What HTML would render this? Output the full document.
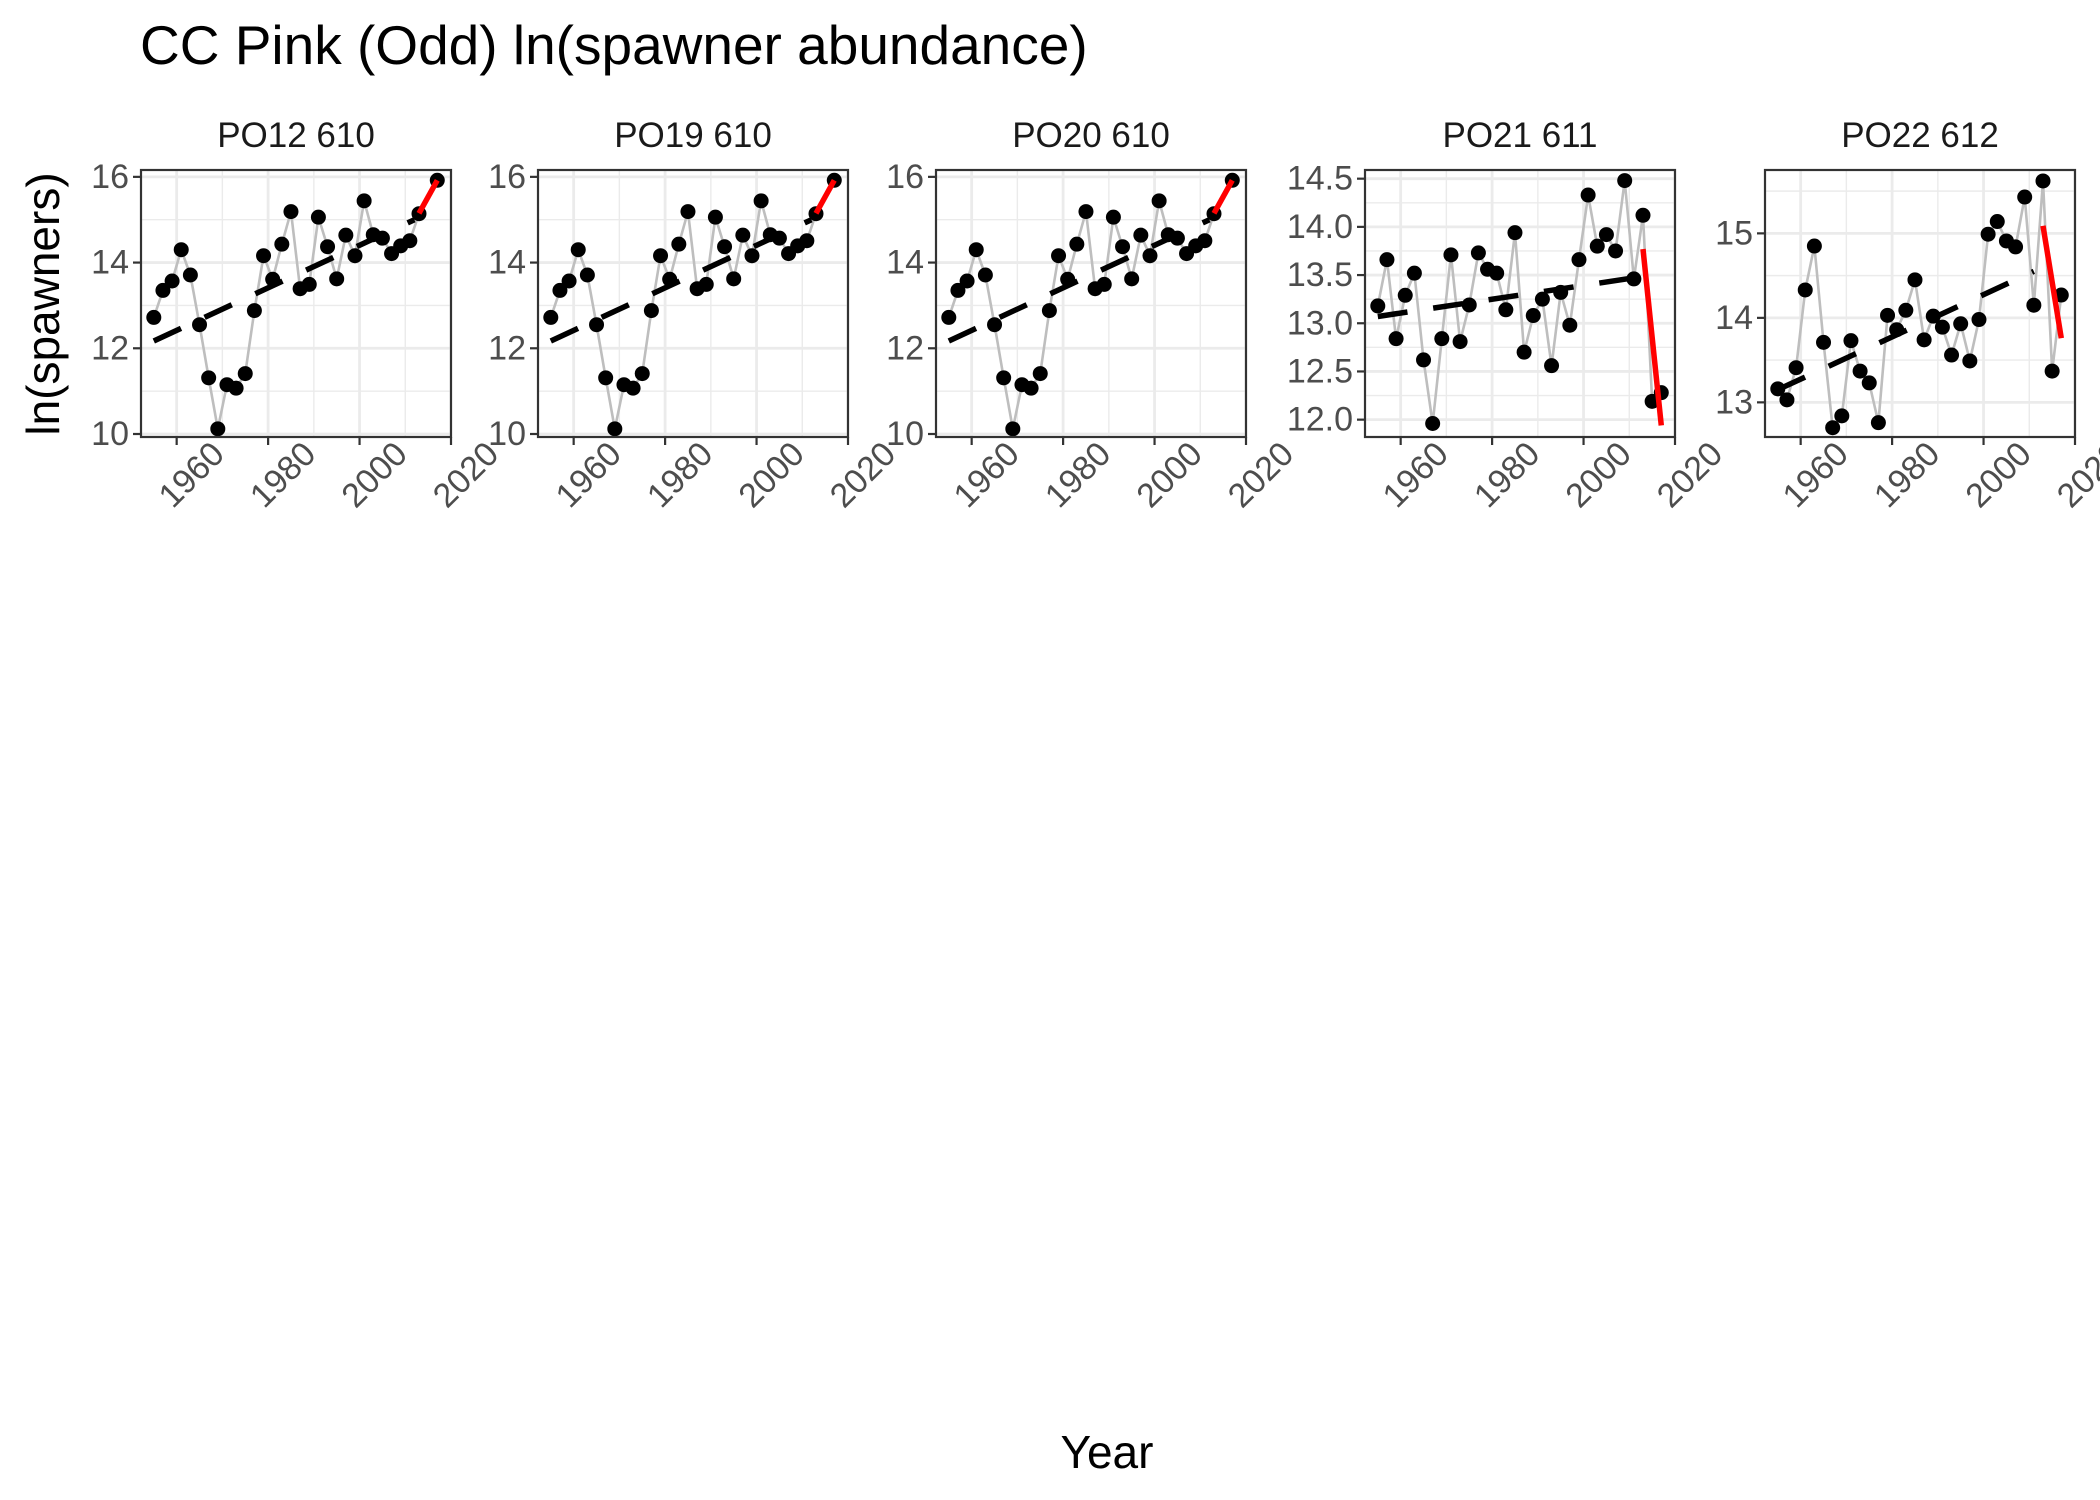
<!DOCTYPE html>
<html><head><meta charset="utf-8"><style>
html,body{margin:0;padding:0;background:#fff;}
svg{display:block;font-family:"Liberation Sans",Arial,sans-serif;}
</style></head><body>
<svg id="chart" width="2100" height="1500" viewBox="0 0 2100 1500">
<text x="140" y="64" font-size="55" fill="#000">CC Pink (Odd) ln(spawner abundance)</text>
<text x="43" y="304" font-size="46" fill="#000" text-anchor="middle" dominant-baseline="central" transform="rotate(-90 43 304)">ln(spawners)</text>
<text x="1107" y="1468" font-size="46" fill="#000" text-anchor="middle">Year</text>
</svg>
<script>
const panelNames = ["PO12 610","PO19 610","PO20 610","PO21 611","PO22 612"];
const yearsA = [1955,1957,1959,1961,1963,1965,1967,1969,1971,1973,1975,1977,1979,1981,1983,1985,1987,1989,1991,1993,1995,1997,1999,2001,2003,2005,2007,2009,2011,2013,2017];
const valsA = [12.72,13.35,13.57,14.30,13.71,12.55,11.31,10.12,11.15,11.07,11.41,12.88,14.16,13.61,14.43,15.19,13.39,13.49,15.06,14.37,13.62,14.64,14.16,15.44,14.65,14.57,14.21,14.39,14.51,15.14,15.92];
const yearsB = [1955,1957,1959,1961,1963,1965,1967,1969,1971,1973,1975,1977,1979,1981,1983,1985,1987,1989,1991,1993,1995,1997,1999,2001,2003,2005,2007,2009,2011,2013,2015,2017];
const valsP21 = [13.18,13.66,12.84,13.29,13.52,12.62,11.96,12.84,13.71,12.81,13.19,13.73,13.56,13.52,13.14,13.94,12.70,13.08,13.25,12.56,13.32,12.98,13.66,14.33,13.80,13.92,13.75,14.48,13.46,14.12,12.19,12.28];
const valsP22 = [13.16,13.03,13.41,14.33,14.85,13.71,12.70,12.84,13.73,13.37,13.23,12.76,14.03,13.86,14.09,14.45,13.74,14.02,13.89,13.56,13.93,13.49,13.98,14.99,15.14,14.91,14.84,15.43,14.15,15.62,13.37,14.27];
const trendYears = [[1955,2012],[1955,2012],[1955,2012],[1955,2015],[1955,2011]];
const trendVals = [[12.17,15.0],[12.17,15.0],[12.17,15.0],[13.07,13.5],[13.15,14.55]];
const recentYears = [[2013,2017],[2013,2017],[2013,2017],[2013,2017],[2013,2017]];
const recentVals = [[15.15,15.92],[15.15,15.92],[15.15,15.92],[13.77,11.94],[15.09,13.76]];
const yTicks = [[10,12,14,16],[10,12,14,16],[10,12,14,16],[12.0,12.5,13.0,13.5,14.0,14.5],[13,14,15]];
const yTickLabels = [["10","12","14","16"],["10","12","14","16"],["10","12","14","16"],["12.0","12.5","13.0","13.5","14.0","14.5"],["13","14","15"]];
const yMinor = [[11,13,15],[11,13,15],[11,13,15],[12.25,12.75,13.25,13.75,14.25],[12.5,13.5,14.5,15.5]];
const yLims = [[9.93,16.16],[9.93,16.16],[9.93,16.16],[11.82,14.59],[12.59,15.75]];
const xTicks = [1960,1980,2000,2020];
const xTickLabels = ["1960","1980","2000","2020"];
const xMinor = [1970,1990,2010];
const xLim = [1952.2,2020];

const NS="http://www.w3.org/2000/svg";
const svg=document.getElementById('chart');
const panelLefts=[141,538,936,1365,1765];
const PW=310, PT=170, PB=437;
function mk(tag,attrs,parent){const e=document.createElementNS(NS,tag);for(const k in attrs)e.setAttribute(k,attrs[k]);(parent||svg).appendChild(e);return e;}
const panelData=[[yearsA,valsA],[yearsA,valsA],[yearsA,valsA],[yearsB,valsP21],[yearsB,valsP22]];

panelNames.forEach((name,i)=>{
  const L=panelLefts[i], R=L+PW;
  const g=mk('g',{});
  
  
  const xs=v=>L+(v-xLim[0])/(xLim[1]-xLim[0])*PW;
  const ys=v=>PB-(v-yLims[i][0])/(yLims[i][1]-yLims[i][0])*(PB-PT);
  const clip=mk('clipPath',{id:'c'+i},g);mk('rect',{x:L,y:PT,width:PW,height:PB-PT},clip);
  const inner=mk('g',{'clip-path':'url(#c'+i+')'},g);
  yMinor[i].forEach(v=>mk('line',{x1:L,x2:R,y1:ys(v),y2:ys(v),stroke:'#ebebeb','stroke-width':1.4},inner));
  xMinor.forEach(v=>mk('line',{x1:xs(v),x2:xs(v),y1:PT,y2:PB,stroke:'#ebebeb','stroke-width':1.4},inner));
  yTicks[i].forEach(v=>mk('line',{x1:L,x2:R,y1:ys(v),y2:ys(v),stroke:'#ebebeb','stroke-width':2.8},inner));
  xTicks.forEach(v=>mk('line',{x1:xs(v),x2:xs(v),y1:PT,y2:PB,stroke:'#ebebeb','stroke-width':2.8},inner));
  const [yr,vl]=panelData[i];
  const pl=mk('polyline',{points:yr.map((y,k)=>xs(y)+','+ys(vl[k])).join(' '),fill:'none',stroke:'#bebebe','stroke-width':2.6},inner);
  
  
  const tr=mk('line',{x1:xs(trendYears[i][0]),y1:ys(trendVals[i][0]),x2:xs(trendYears[i][1]),y2:ys(trendVals[i][1]),stroke:'#000','stroke-width':5.5,'stroke-dasharray':'30 26'},inner);
  
  
  yr.forEach((y,k)=>{
    const c=mk('circle',{cx:xs(y),cy:ys(vl[k]),r:7.5,fill:'#000'},inner);
    
    
  });
  const rl=mk('line',{x1:xs(recentYears[i][0]),y1:ys(recentVals[i][0]),x2:xs(recentYears[i][1]),y2:ys(recentVals[i][1]),stroke:'#ff0000','stroke-width':5.5},inner);
  
  
  mk('rect',{x:L,y:PT,width:PW,height:PB-PT,fill:'none',stroke:'#333','stroke-width':2.2},g);
  const st=mk('text',{x:L+PW/2,y:147,'font-size':35,'text-anchor':'middle',fill:'#1a1a1a'},g);
  st.textContent=name;
  
  
  yTicks[i].forEach((v,k)=>{
    mk('line',{x1:L-8,x2:L,y1:ys(v),y2:ys(v),stroke:'#333','stroke-width':2.2},g);
    const t=mk('text',{x:L-12,y:ys(v),'font-size':34,'text-anchor':'end','dominant-baseline':'central',fill:'#4d4d4d'},g);
    t.textContent=yTickLabels[i][k];
    
    
  });
  xTicks.forEach((v,k)=>{
    const x=xs(v);
    mk('line',{x1:x,x2:x,y1:PB,y2:PB+8,stroke:'#333','stroke-width':2.2},g);
    const cx=x+15, cy=475;
    const t=mk('text',{x:cx,y:cy,'font-size':34,'text-anchor':'middle','dominant-baseline':'central',fill:'#4d4d4d',transform:'rotate(-45 '+cx+' '+cy+')'},g);
    t.textContent=xTickLabels[k];
    
    
  });
});
</script>
</body></html>
